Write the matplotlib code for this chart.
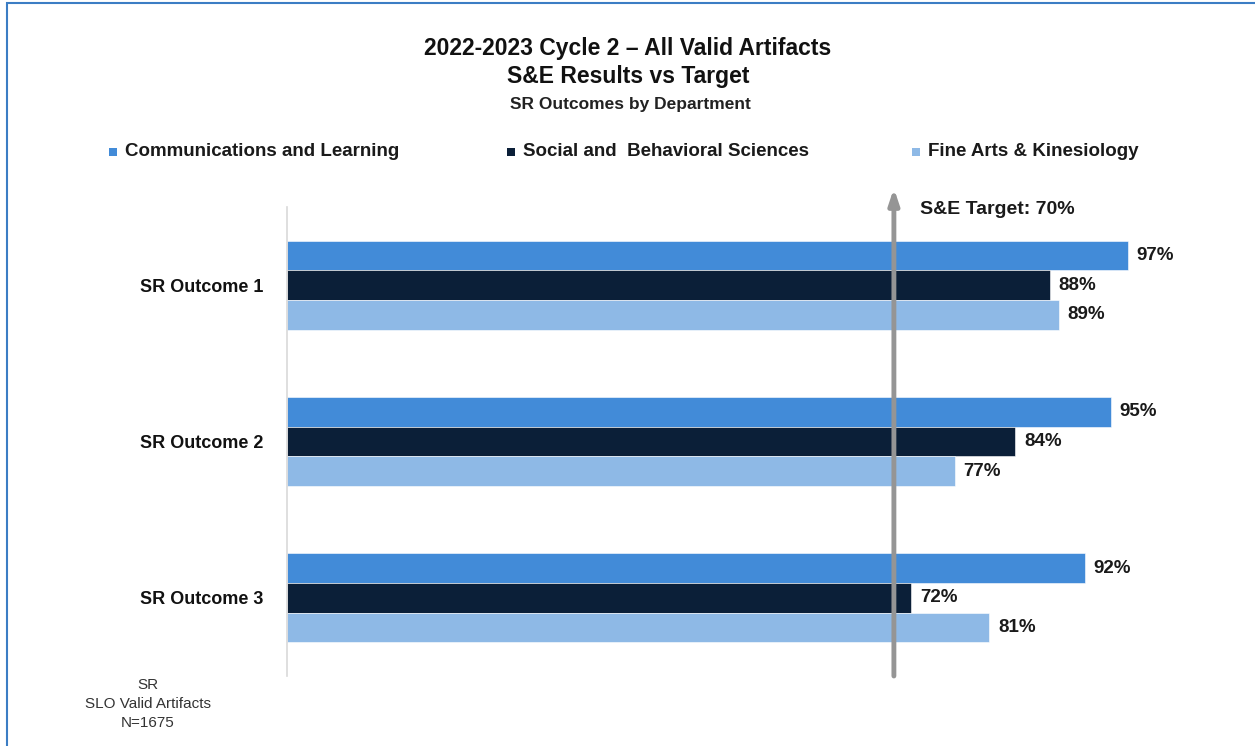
import matplotlib.pyplot as plt
from matplotlib.patches import Rectangle
import numpy as np

plt.rcParams['font.family'] = ['Liberation Sans', 'DejaVu Sans']

# data
outcomes = ['SR Outcome 1', 'SR Outcome 2', 'SR Outcome 3']
departments = ['Communications and Learning', 'Social and  Behavioral Sciences', 'Fine Arts & Kinesiology']
comm_learning = [97, 95, 92]
social_behav = [88, 84, 72]
fine_arts = [89, 77, 81]
target = 70

series = [comm_learning, social_behav, fine_arts]
colors = ['#428BD8', '#0B1F38', '#8EB9E6']

W, H = 1255, 746
fig = plt.figure(figsize=(W / 100, H / 100), dpi=100)

# outer blue frame
fig.patches.append(Rectangle((7 / W, -0.05), 1.2, 1 - 3 / H + 0.05, transform=fig.transFigure,
                             fill=False, edgecolor='#3C7DC4', linewidth=1.5))

# plot area in pixels
left, right, top, bottom = 287, 1154, 207, 676
ax = fig.add_axes([left / W, (H - bottom) / H, (right - left) / W, (bottom - top) / H])

y = np.arange(len(outcomes))
bh = 0.19
for i, (vals, col) in enumerate(zip(series, colors)):
    pos = y + (i - 1) * bh
    ax.barh(pos, vals, height=bh, color=col, edgecolor='white', linewidth=0.4)
    for p, v in zip(pos, vals):
        ax.text(v + 1.0, p, f'{v}%', va='center', ha='left', fontsize=13.5, fontweight='bold', color='#1a1a1a')

ax.set_xlim(0, 100)
ax.set_ylim(len(outcomes) - 0.5, -0.5)
ax.set_xticks([])
ax.set_yticks(y)
ax.set_yticklabels(outcomes, fontsize=13, fontweight='bold', color='#111111')
ax.tick_params(axis='y', length=0, pad=17)
for s in ['top', 'right', 'bottom']:
    ax.spines[s].set_visible(False)
ax.spines['left'].set_color('#D9D9D9')
ax.spines['left'].set_linewidth(1.2)

# target arrow
ax.annotate('', xy=(target, 1.04), xycoords=('data', 'axes fraction'),
            xytext=(target, 0.0), textcoords=('data', 'axes fraction'),
            arrowprops=dict(arrowstyle='-|>,head_width=0.3,head_length=0.9', color='#959595', lw=3.5,
                            shrinkA=0, shrinkB=0), annotation_clip=False)
ax.text(target + 3.0, 1.0 - (210 - top) / (bottom - top), f'S&E Target: {target}%',
        transform=ax.get_xaxis_transform(),
        fontsize=14, fontweight='bold', color='#1a1a1a', va='center', ha='left')

# titles
fig.text(628 / W, 1 - 49 / H, '2022-2023 Cycle 2 \u2013 All Valid Artifacts', ha='center', va='center',
         fontsize=16.5, fontweight='bold', color='#111111')
fig.text(628 / W, 1 - 77 / H, 'S&E Results vs Target', ha='center', va='center',
         fontsize=16.5, fontweight='bold', color='#111111')
fig.text(630 / W, 1 - 104 / H, 'SR Outcomes by Department', ha='center', va='center',
         fontsize=12.5, fontweight='bold', color='#222222')

# legend
leg_x = [109, 507, 912]
for lx, name, col in zip(leg_x, departments, colors):
    fig.patches.append(Rectangle((lx / W, 1 - 155.5 / H), 8 / W, 8 / H, transform=fig.transFigure,
                                 facecolor=col, edgecolor='none'))
    fig.text((lx + 16) / W, 1 - 151 / H, name, ha='left', va='center', fontsize=13.5,
             fontweight='bold', color='#1a1a1a')

# footnote
fig.text(148 / W, 1 - 704 / H, 'SR\nSLO Valid Artifacts\nN=1675', ha='center', va='center',
         fontsize=11, color='#333333', linespacing=1.45)

fig.savefig('out.png', dpi=100)
